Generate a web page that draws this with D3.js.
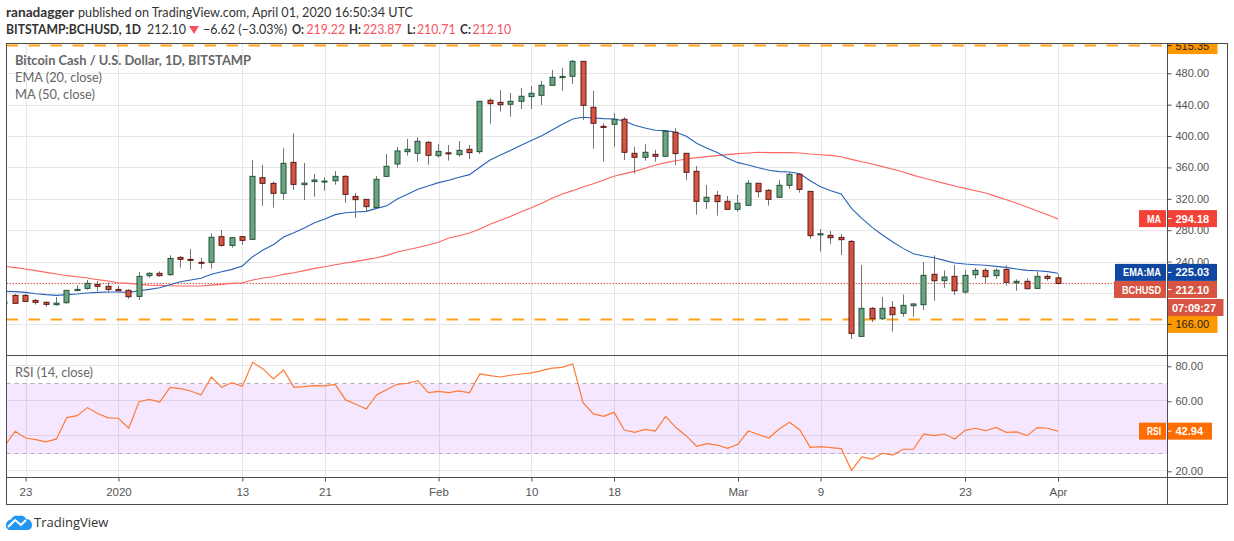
<!DOCTYPE html>
<html>
<head>
<meta charset="utf-8">
<script src="https://cdn.jsdelivr.net/npm/d3@7"></script>
<style>
  html, body { margin: 0; padding: 0; background: #fff; }
  svg { display: block; }
  text { font-family: "Liberation Sans", Arial, sans-serif; }
  .head text, .legend text { font-family: Lato, sans-serif; }
  .logo text { font-family: "Open Sans", sans-serif; }
</style>
</head>
<body>
<div id="chart"></div>
<script>
// days counted from Dec 23 2019, first candle is two days before that
const days = d3.range(-2, 101);

const opens = [187,196.9,196.9,190.5,188,185,187.5,203,205.8,210.9,208.4,204.5,203.3,195.6,222,225,223.2,245.3,242.8,239,239,271.7,260.6,271.7,268.3,346.9,339.7,327,366.5,338,342,341.8,343,348.6,323,319.3,309,348.6,364.4,380.1,378,392,375,378.6,376.3,383.1,380.1,445.6,443,440.5,444.3,450.3,451.9,464.7,474.5,476.2,495.3,436.6,412.4,415,421.4,378,372.9,376.7,374.2,404.8,378,355,316.4,324.4,316.8,306.6,311.7,339.8,330.8,321.9,337.2,351.2,329.5,274,273.4,270.8,265.7,144.6,180.3,167.1,181.6,174,183.7,185,223.7,215.6,221.1,201.1,223.2,228.8,222,230,213,214.8,205.8,221.1,219.22];
const highs = [188,198.6,198.6,192.2,189.2,194.8,203.3,210,216.5,215.2,213.5,208.8,204.5,226.6,226.2,227.5,247.9,247,256,245,275.9,280.2,270.4,272.5,369.4,363,342.2,384.4,403.5,365.7,351.6,347.4,355.4,350.3,327.4,319.3,349,377,386,396.3,398.4,393.7,389.9,388.6,393.7,388.6,444.3,448.1,458.7,454.9,461.3,463.9,470.2,484.3,486.8,497,495.3,457.5,416.3,429.4,423.9,386.3,389.9,382.3,406,409.9,378,361.8,337.6,330,323.6,324.9,344,339.8,332.5,344,353.7,352.5,329.5,281.5,278.9,275.1,267.4,235.6,182,194.8,189.7,198.2,187,239.4,247.9,228.8,235.6,229.2,231.8,231.8,231.3,235.2,217.3,218.6,227.5,224,223.87];
const lows = [186,186.3,188.8,185,182.4,183.7,186.3,203,204,202.4,200.7,202.4,192.6,191,219.4,220.7,222,232.2,229.6,230.9,230.9,259,257.7,261.5,268.3,311.2,308.7,318.4,331.2,318.4,322.7,330.3,338,315,295.9,304,308.7,348.2,359.7,375,367.4,363.5,372.5,368.7,373.7,370.8,377.2,415.8,431.1,424.8,434.5,434.5,439.6,464.3,457.5,466.4,420.5,384,367.4,386.5,369.5,352.1,368.7,367.4,373.8,363.1,344,299.8,307,298.5,305.8,303.6,311.3,321.5,311.3,321.5,332.5,327.8,269.2,252.6,262.3,248.3,141.2,144.6,162.9,165.4,150.6,169.7,169.7,178.2,190.1,206.2,197.3,199,218.2,212.2,218.2,209.2,202.8,204.5,205.4,215.6,210.71];
const closes = [188,186.7,189.2,188,185.4,187,203.3,204.5,212.2,208.4,204.5,202.8,195.2,221.1,225,222,244,242.8,241.5,238.6,270.9,260.6,270.4,267,348.6,339.7,327,365.2,338.4,340,344,342.6,348.6,325.7,318.9,310,344.8,361.4,381,383.1,393.3,375.4,380.5,378.4,381.8,378.9,444.3,441.3,440,444.3,450.7,454.5,464.7,474.9,476,495.3,439.2,416.3,411,421.4,379.3,372.9,379.3,374.2,406,377.6,353.8,316.8,321.9,316.4,306.6,314.3,339.8,329.1,319.3,337.2,351.2,332,273,275.5,270.4,267.9,148.4,180.3,167.1,180.3,172.2,184.2,185.9,222.4,215.6,220.3,202.8,222.4,228.8,220.7,228.8,213.5,214.8,205.4,221.1,218.6,212.1];

const ema20 = [202,201.6,200.7,199,197.8,196.9,197.8,198.6,199.9,200.7,201.2,201.2,200.7,202.8,204.5,206.7,210.5,214.3,216.4,218.6,223.7,227.1,230,234.3,246.2,254.7,261.5,271.3,276.8,282.7,289.5,294.2,299.8,302.3,303.2,304,307.8,311.2,319.7,325.7,332.1,336.4,340.6,343.6,347.4,350.8,360.2,369.5,375.9,381.8,388.2,394.2,400.5,407.8,415,421.8,423.9,423,422.2,421.8,419.2,413.7,410.3,407.3,406.9,404.8,399.7,390.8,384.4,378.9,371.6,366.1,363.1,359.7,356.3,354.6,354.2,352,343.1,335.4,330.3,326.1,307.8,295,283.6,273.8,264.9,256.8,250,247,244.9,241.5,238.1,236.9,236,235.2,233.9,232.6,230.5,228.8,228.3,227.1,225.03];
const ma50 = [233.9,232.2,230.5,228.4,226.2,224.1,222,220.7,219,216.9,215.2,213,212.2,210.9,210,209.6,209.2,208.8,208.8,208.8,210,210.9,212.2,213,216.4,219,220.7,223.7,225.8,228.4,231.3,233.4,236,238.1,240.2,242.4,244.9,247.9,252.2,255,258,261,264.5,270,273,276.4,281.5,287.5,292.6,297.7,303.6,308.7,314.2,320.6,326.2,330.4,335.1,339.3,344,348.7,352.1,355,358.9,362.7,366.1,368.6,370.8,372.5,373.8,375,376.3,377.6,378.4,379.3,378.9,378.9,378.9,378.4,377.1,376.2,375.4,373.7,370.3,367.3,364.4,361,357.6,354.1,349.9,346.5,343.1,339.7,336.3,333.3,330.3,327.4,323.1,318.9,314.2,309.5,304.4,299.7,294.18];
const rsi14 = [34.7,42.9,39,38.1,36.8,38.5,50.7,51.8,56.4,53,50.5,50.3,44.6,59.8,61.1,59.6,68,67.2,65.9,63.6,73.9,68,70.7,68.6,82.3,78.5,72.8,77.9,68,68.4,69,68.8,69.7,60.8,58.3,55.6,63.6,66.7,69.7,70.3,71.8,65,65.7,65,65.9,64.8,75.6,74.7,73.9,74.9,75.6,76.2,77.5,79,79.4,81.5,59.2,52.8,51.4,53.7,43.6,42.3,44,43,51.4,45,40.2,34.3,35.8,35,33.1,35.4,43,41,39,44.2,48,43.6,33.7,34.1,33.5,33,20.6,28.2,27,30.3,29.3,32.6,32.6,41.3,40.4,41.3,38.5,43.4,44.6,43.2,45.1,42.3,42.5,40.4,45,44.6,42.94];

const priceGrid = [480, 440, 400, 360, 320, 280, 240, 200, 160];
const priceTicks = [480, 440, 400, 360, 320, 280, 240];
const rsiGrid = [80, 60, 40, 20];
const rsiTicks = [80, 60, 20];
const timeTicks = [0, 9, 21, 29, 40, 49, 57, 69, 77, 91, 100];
const timeLabels = ["23", "2020", "13", "21", "Feb", "10", "18", "Mar", "9", "23", "Apr"];
const levels = [515.35, 166];
const lastPrice = 212.1;

const width = 1234, height = 541;
const left = 6.5, right = 1167.5, outer = 1227.5;
const top1 = 43.5, bottom1 = 355.5, bottom2 = 477.5, bottom3 = 504.5;

const x = d3.scaleLinear().domain([0, 100]).range([25.5, 1058]);
const y = d3.scaleLinear().domain([480, 160]).range([73.3, 324.3]);
const yRsi = d3.scaleLinear().domain([80, 20]).range([366.3, 471.3]);

const up = "#6ba583", upEdge = "#225437", down = "#d75442", downEdge = "#5b1a13", wick = "#737375";
const gridColor = "#e6e6e6", frameColor = "#4c4c4c", axisText = "#555";

const svg = d3.select("#chart").append("svg").attr("width", width).attr("height", height);

const defs = svg.append("defs");
defs.append("clipPath").attr("id", "pane1").append("rect")
  .attr("x", left).attr("y", top1).attr("width", right - left).attr("height", bottom1 - top1);
defs.append("clipPath").attr("id", "pane2").append("rect")
  .attr("x", left).attr("y", bottom1).attr("width", right - left).attr("height", bottom2 - bottom1);
defs.append("clipPath").attr("id", "scale1").append("rect")
  .attr("x", right).attr("y", top1).attr("width", outer - right).attr("height", bottom1 - top1);

// text squeezed to the width it has in the picture
function put(g, px, py, str, len, opts) {
  const t = g.append("text").attr("x", px).attr("y", py)
    .attr("textLength", len).attr("lengthAdjust", "spacingAndGlyphs").text(str);
  if (opts) Object.keys(opts).forEach((k) => t.attr(k, opts[k]));
  return t;
}

// header
const head = svg.append("g").attr("class", "head").attr("font-size", 14).attr("fill", "#333");
const bold = { "font-weight": 700 }, red = { fill: "#f7525f" };
put(head, 6, 17, "ranadagger", 68, bold);
put(head, 78, 17, "published on TradingView.com, April 01, 2020 16:50:34 UTC", 335);
put(head, 6, 34, "BITSTAMP:BCHUSD, 1D", 135, { "font-weight": 700, "font-size": 12.5 });
put(head, 147, 34, "212.10", 39);
head.append("path").attr("d", "M189 26 L199 26 L194 34 Z").attr("fill", "#f7525f");
put(head, 203, 34, "−6.62 (−3.03%)", 84, { "font-size": 13 });
put(head, 292, 34, "O:", 12, bold);
put(head, 306.5, 34, "219.22", 38.5, red);
put(head, 349, 34, "H:", 12, bold);
put(head, 363, 34, "223.87", 38.5, red);
put(head, 407, 34, "L:", 8.5, bold);
put(head, 417, 34, "210.71", 38.5, red);
put(head, 460, 34, "C:", 11, bold);
put(head, 472.5, 34, "212.10", 38.5, red);

// grid
const grid = svg.append("g").attr("stroke", gridColor).attr("stroke-width", 1);
timeTicks.forEach((t) => {
  const px = Math.round(x(t)) + 0.5;
  grid.append("line").attr("x1", px).attr("x2", px).attr("y1", top1).attr("y2", bottom2);
});
priceGrid.forEach((v) => {
  const py = Math.round(y(v)) + 0.5;
  grid.append("line").attr("x1", left).attr("x2", right).attr("y1", py).attr("y2", py);
});

// rsi band goes over the grid, it is see through
const band = svg.append("g").attr("clip-path", "url(#pane2)");
band.append("rect").attr("x", left).attr("width", right - left)
  .attr("y", yRsi(70)).attr("height", yRsi(30) - yRsi(70))
  .attr("fill", "#9915ff").attr("fill-opacity", 0.1);
rsiGrid.forEach((v) => {
  const py = Math.round(yRsi(v)) - 0.5;
  grid.append("line").attr("x1", left).attr("x2", right).attr("y1", py).attr("y2", py);
});
[70, 30].forEach((v) => {
  band.append("line").attr("x1", left).attr("x2", right)
    .attr("y1", Math.round(yRsi(v)) - 0.5).attr("y2", Math.round(yRsi(v)) - 0.5)
    .attr("stroke", "#b9a8c2").attr("stroke-dasharray", "4,4");
});

// price pane
const pane = svg.append("g").attr("clip-path", "url(#pane1)");

pane.selectAll(".level").data(levels).join("line").attr("class", "level")
  .attr("x1", left).attr("x2", right)
  .attr("y1", (d) => y(d)).attr("y2", (d) => y(d))
  .attr("stroke", "#ff9800").attr("stroke-width", 2).attr("stroke-opacity", 0.9)
  .attr("stroke-dasharray", "11.5,10.5");

pane.append("line").attr("x1", left).attr("x2", right)
  .attr("y1", y(lastPrice)).attr("y2", y(lastPrice))
  .attr("stroke", down).attr("stroke-dasharray", "1.5,1.5");

const lineOf = (yScale, values) => d3.line().x((d, i) => x(days[i])).y((d) => yScale(d))(values);

pane.append("path").attr("d", lineOf(y, ma50)).attr("fill", "none").attr("stroke", "#ff6460").attr("stroke-width", 1.1);
pane.append("path").attr("d", lineOf(y, ema20)).attr("fill", "none").attr("stroke", "#2a62b8").attr("stroke-width", 1.1);

const bodyW = 5;
const candles = pane.selectAll(".candle").data(days).join("g").attr("class", "candle");
candles.append("line")
  .attr("x1", (d) => Math.floor(x(d)) + 0.5).attr("x2", (d) => Math.floor(x(d)) + 0.5)
  .attr("y1", (d, i) => y(highs[i])).attr("y2", (d, i) => y(lows[i]))
  .attr("stroke", wick);
candles.append("rect")
  .attr("x", (d) => Math.floor(x(d)) + 0.5 - bodyW / 2)
  .attr("width", bodyW)
  .attr("y", (d, i) => y(Math.max(opens[i], closes[i])))
  .attr("height", (d, i) => Math.max(1, Math.abs(y(opens[i]) - y(closes[i]))))
  .attr("fill", (d, i) => (closes[i] >= opens[i] ? up : down))
  .attr("stroke", (d, i) => (closes[i] >= opens[i] ? upEdge : downEdge));

// rsi pane
svg.append("g").attr("clip-path", "url(#pane2)").append("path")
  .attr("d", lineOf(yRsi, rsi14)).attr("fill", "none").attr("stroke", "#ff7a33").attr("stroke-width", 1.2);

// legends
const legend = svg.append("g").attr("class", "legend").attr("font-size", 13.5).attr("fill", "#666");
put(legend, 15, 65, "Bitcoin Cash / U.S. Dollar, 1D, BITSTAMP", 236, { "font-weight": 700 });
put(legend, 15, 82, "EMA (20, close)", 87);
put(legend, 15, 99, "MA (50, close)", 80);
put(legend, 15, 377, "RSI (14, close)", 78);

// axes
const priceAxis = d3.axisRight(y).tickValues(priceTicks).tickFormat(d3.format(".2f")).tickSize(4).tickPadding(4);
const rsiAxis = d3.axisRight(yRsi).tickValues(rsiTicks).tickFormat(d3.format(".2f")).tickSize(4).tickPadding(4);
const timeAxis = d3.axisBottom(x).tickValues(timeTicks).tickFormat((d, i) => timeLabels[i]).tickSize(4).tickPadding(6);

function styleAxis(g, size) {
  g.select(".domain").remove();
  g.selectAll("line").attr("stroke", frameColor);
  g.selectAll("text").attr("fill", axisText).attr("font-size", size)
    .attr("font-family", '"Liberation Sans", Arial, sans-serif');
}
svg.append("g").attr("transform", `translate(${right},0)`).call(priceAxis).call(styleAxis, 11);
svg.append("g").attr("transform", `translate(${right},0)`).call(rsiAxis).call(styleAxis, 11);
svg.append("g").attr("transform", `translate(0,${bottom2})`).call(timeAxis).call(styleAxis, 11.5);

// price tags on the scale, the two close ones get pushed apart
const tags = [
  { label: "MA", text: "294.18", py: 218.6, lx: 1139, len: 14, c: "#f44336" },
  { label: "EMA:MA", text: "225.03", py: 272.4, lx: 1115, len: 38, c: "#0d47a1" },
  { label: "BCHUSD", text: "212.10", py: 289.5, lx: 1114, len: 39, c: down },
  { label: "RSI", text: "42.94", py: yRsi(42.94), lx: 1139, len: 14, c: "#ff6d00" }
];
const tagLayer = svg.append("g").attr("font-size", 11).attr("font-weight", 700);
tags.forEach((t) => {
  tagLayer.append("rect").attr("x", t.lx).attr("y", t.py - 8.5).attr("width", right - 1.5 - t.lx).attr("height", 17).attr("fill", t.c);
  tagLayer.append("rect").attr("x", right + 0.5).attr("y", t.py - 8.5).attr("width", (t.label === "RSI" ? 1212 : 1217) - right - 0.5).attr("height", 17).attr("fill", t.c);
  tagLayer.append("line").attr("x1", right).attr("x2", right + 4).attr("y1", t.py).attr("y2", t.py).attr("stroke", "#fff");
  put(tagLayer, 1161 - t.len, t.py + 4, t.label, t.len, { fill: "#fff" });
  tagLayer.append("text").attr("x", right + 8).attr("y", t.py + 4).attr("fill", "#fff").text(t.text);
});

// countdown under the last price
tagLayer.append("rect").attr("x", right + 0.5).attr("y", 299).attr("width", 55.5).attr("height", 17).attr("fill", down);
tagLayer.append("text").attr("x", right + 4.5).attr("y", 311.5).attr("fill", "#fff").text("07:09:27");

// orange level tags
const levelTags = svg.append("g").attr("clip-path", "url(#scale1)").attr("font-size", 11);
levels.forEach((v) => {
  const py = v === 166 ? y(v) + 4.8 : y(v);
  levelTags.append("rect").attr("x", right + 0.5).attr("y", py - 8.5).attr("width", 49.5).attr("height", 17).attr("fill", "#ff9800");
  levelTags.append("line").attr("x1", right).attr("x2", right + 4).attr("y1", py).attr("y2", py).attr("stroke", "#222");
  levelTags.append("text").attr("x", right + 8).attr("y", py + 4).attr("fill", "#222").text(d3.format(".2f")(v));
});

// frame
const frame = svg.append("g").attr("stroke", frameColor).attr("fill", "none");
frame.append("rect").attr("x", left).attr("y", top1).attr("width", outer - left).attr("height", bottom3 - top1);
frame.append("line").attr("x1", right).attr("x2", right).attr("y1", top1).attr("y2", bottom3);
frame.append("line").attr("x1", left).attr("x2", outer).attr("y1", bottom1).attr("y2", bottom1);
frame.append("line").attr("x1", left).attr("x2", outer).attr("y1", bottom2).attr("y2", bottom2);

// logo
const logo = svg.append("g").attr("class", "logo");
logo.append("path")
  .attr("d", "M6 526 C6 522 8 520 11 519.5 C13 516 16 514.5 19 516 C21 514.5 25 516 26 519 C30 519 32 522 32 525 C32 528 30 530 27 530 L10 530 C8 530 6 528 6 526 Z")
  .attr("fill", "#2196f3");
logo.append("path").attr("d", "M8 527 L15 520 L21 525 L26 520")
  .attr("fill", "none").attr("stroke", "#fff").attr("stroke-width", 2);
logo.append("text").attr("x", 34).attr("y", 527).attr("font-size", 13).attr("fill", "#333").text("TradingView");
</script>
</body>
</html>
